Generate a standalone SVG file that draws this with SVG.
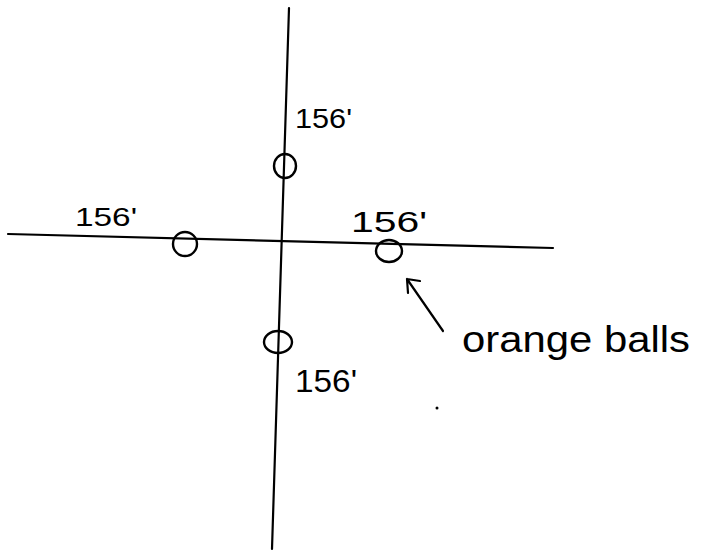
<svg xmlns="http://www.w3.org/2000/svg" width="701" height="552" viewBox="0 0 701 552">
<style>
.ln{stroke:#000;stroke-width:2.2;fill:none;stroke-linecap:round}
.ball{stroke:#000;stroke-width:2.4;fill:none}
.lbl{font-family:"Liberation Sans",Arial,sans-serif;font-size:27px;fill:#000}
.note{font-family:"Liberation Sans",Arial,sans-serif;font-size:36px;fill:#000}
</style>
<rect width="701" height="552" fill="#fff"/>
<g id="connectors">
<path class="ln" d="M289,8 L272,549"/>
<path class="ln" d="M8,234 L553,248"/>
<path class="ln" d="M443,331 L407,279 M407,279 L408,293 M407,279 L420,281"/>
</g>
<g id="ball-top"><ellipse class="ball" cx="285" cy="166" rx="11" ry="12"/><text class="lbl" x="295" y="128" textLength="57" lengthAdjust="spacingAndGlyphs">156'</text></g>
<g id="ball-left"><ellipse class="ball" cx="185" cy="244" rx="12" ry="12"/><text class="lbl" x="75" y="226" textLength="62" lengthAdjust="spacingAndGlyphs" style="font-size:25px">156'</text></g>
<g id="ball-right"><ellipse class="ball" cx="389" cy="251" rx="13" ry="11"/><text class="lbl" x="351" y="232" textLength="76" lengthAdjust="spacingAndGlyphs" style="font-size:29px">156'</text></g>
<g id="ball-bottom"><ellipse class="ball" cx="278" cy="342" rx="14" ry="11"/><text class="lbl" x="295" y="392" textLength="62" lengthAdjust="spacingAndGlyphs" style="font-size:31px">156'</text></g>
<g id="note"><text class="note" x="462" y="352" textLength="228" lengthAdjust="spacingAndGlyphs">orange balls</text></g>
<circle cx="437" cy="408" r="1.5" fill="#000"/>
</svg>
